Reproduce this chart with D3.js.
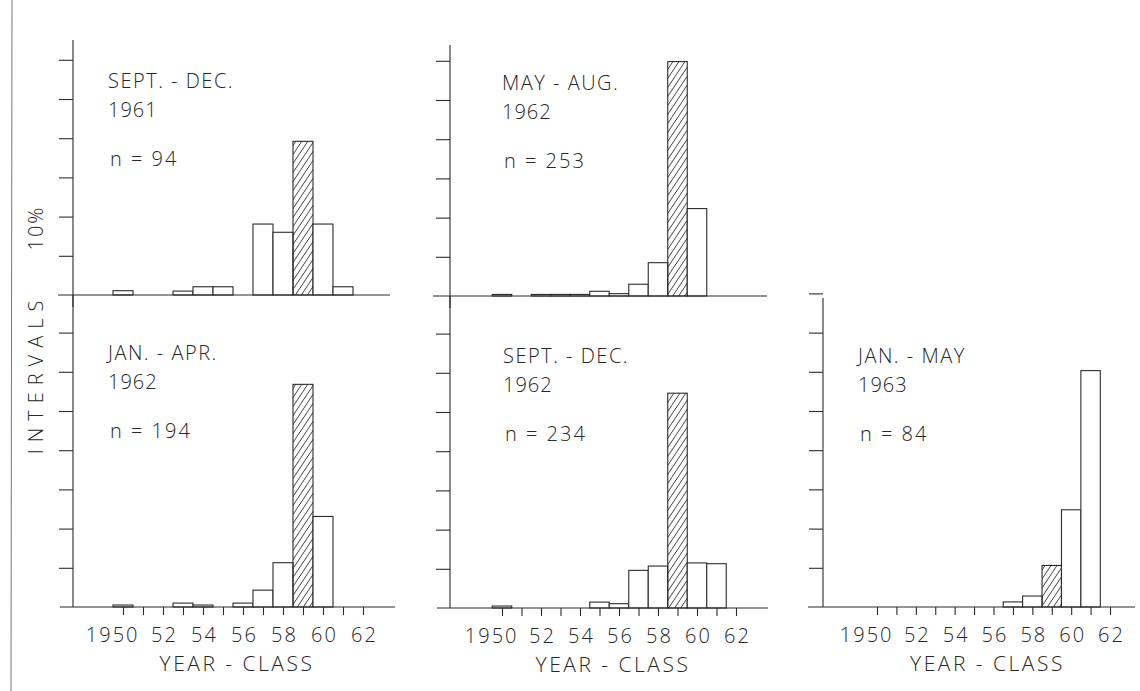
<!DOCTYPE html>
<html>
<head>
<meta charset="utf-8">
<script src="https://cdn.jsdelivr.net/npm/d3@7"></script>
<style>
body { margin: 0; background: #fff; }
text { font-family: "Open Sans", sans-serif; font-weight: 350; fill: #262626; }
</style>
</head>
<body>
<div id="chart"></div>
<script>
// year-classes on the x axis
var years = [1950, 1951, 1952, 1953, 1954, 1955, 1956, 1957, 1958, 1959, 1960, 1961, 1962];
var tickLabels = ["1950", "", "52", "", "54", "", "56", "", "58", "", "60", "", "62"];
var markedYear = 1959;

// percent of sample per year-class, one array per sampling period
var sepDec1961 = [1.1, 0, 0, 1.0, 2.1, 2.1, 0, 18.1, 16.0, 39.2, 18.1, 2.1, 0];
var mayAug1962 = [0.4, 0, 0.4, 0.4, 0.4, 1.2, 0.6, 3.0, 8.5, 59.8, 22.3, 0, 0];
var janApr1962 = [0.5, 0, 0, 1.0, 0.5, 0, 1.0, 4.3, 11.3, 56.8, 23.1, 0, 0];
var sepDec1962 = [0.5, 0, 0, 0, 0, 1.5, 1.1, 9.6, 10.7, 54.8, 11.5, 11.3, 0];
var janMay1963 = [0, 0, 0, 0, 0, 0, 0, 1.3, 2.8, 10.6, 24.8, 60.3, 0];

var periods = ["SEPT. - DEC.", "MAY - AUG.", "JAN. - APR.", "SEPT. - DEC.", "JAN. - MAY"];
var periodYears = ["1961", "1962", "1962", "1962", "1963"];
var sampleSizes = [94, 253, 194, 234, 84];

var width = 1140;
var height = 691;
var ink = "#2b2b2b";

var svg = d3.select("#chart")
    .append("svg")
        .attr("width", width)
        .attr("height", height);

var pat = svg.append("defs").append("pattern")
    .attr("id", "hatch")
    .attr("patternUnits", "userSpaceOnUse")
    .attr("width", 6)
    .attr("height", 9);
pat.append("path")
    .attr("d", "M0,9 L6,0 M-1,1.5 L1,-1.5 M5,10.5 L7,7.5")
    .attr("stroke", ink)
    .attr("stroke-width", 0.9);

// page edge of the scan
svg.append("line")
    .attr("x1", 12).attr("x2", 11)
    .attr("y1", 0).attr("y2", height)
    .attr("stroke", "#777").attr("stroke-width", 1);

// layout of the five small panels
var panels = [
  {values: sepDec1961, ax: 73,  base: 295, top: 40,  x0: 123, x1: 363,  left: 58,  right: 390,  yticks: [10,20,30,40,50,60], xaxis: false, tx: 108, ty: 88},
  {values: mayAug1962, ax: 450, base: 296, top: 45,  x0: 502, x1: 736,  left: 433, right: 767,  yticks: [10,20,30,40,50,60], xaxis: false, tx: 502, ty: 90},
  {values: janApr1962, ax: 73,  base: 607, top: 295, x0: 123, x1: 363,  left: 60,  right: 395,  yticks: [10,20,30,40,50,60,70], xaxis: true, tx: 108, ty: 360},
  {values: sepDec1962, ax: 450, base: 608, top: 296, x0: 502, x1: 736,  left: 437, right: 768,  yticks: [10,20,30,40,50,60,70], xaxis: true, tx: 503, ty: 363},
  {values: janMay1963, ax: 823, base: 607, top: 298, x0: 877, x1: 1110, left: 808, right: 1135, yticks: [10,20,30,40,50,60,70,80], xaxis: true, tx: 858, ty: 363}
];

panels.forEach(function(p, i) {
  var g = svg.append("g");

  var x = d3.scaleLinear().domain([years[0], years[years.length - 1]]).range([p.x0, p.x1]);
  var y = d3.scaleLinear().domain([0, 10]).range([p.base, p.base - 39.2]);

  var rows = years.map(function(yr, j) { return {year: yr, value: p.values[j]}; })
      .filter(function(d) { return d.value > 0; });

  g.selectAll("rect").data(rows).enter().append("rect")
      .attr("x", d => x(d.year - 0.5))
      .attr("width", d => x(d.year + 0.5) - x(d.year - 0.5))
      .attr("y", d => y(d.value))
      .attr("height", d => y(0) - y(d.value))
      .attr("fill", d => d.year === markedYear ? "url(#hatch)" : "#fff")
      .attr("stroke", ink)
      .attr("stroke-width", 1.1);

  // y ticks
  var yAxis = d3.axisLeft(y).tickValues(p.yticks).tickSize(14).tickSizeOuter(0).tickFormat("");
  var ya = g.append("g").attr("transform", `translate(${p.ax},0)`).call(yAxis);
  ya.select(".domain").remove();
  ya.selectAll("line").attr("stroke", ink).attr("stroke-width", 1.1);

  g.append("line")
      .attr("x1", p.ax).attr("x2", p.ax)
      .attr("y1", p.top).attr("y2", p.base + (p.xaxis ? 0 : 12))
      .attr("stroke", ink).attr("stroke-width", 1.1);

  if (p.xaxis) {
    var xAxis = d3.axisBottom(x).tickValues(years).tickSize(8).tickSizeOuter(0)
        .tickFormat((d, j) => tickLabels[j]);
    var xa = g.append("g").attr("transform", `translate(0,${p.base})`).call(xAxis);
    xa.select(".domain").remove();
    xa.selectAll("line").attr("stroke", ink).attr("stroke-width", 1.1);
    xa.selectAll("text")
        .attr("y", 35)
        .attr("dy", 0)
        .style("font-size", "20px")
        .style("letter-spacing", "2px")
        .style("font-family", "'Open Sans', sans-serif")
        .style("font-weight", 350)
        .attr("fill", ink)
        .attr("text-anchor", (d, j) => j === 0 ? "end" : "middle")
        .attr("dx", (d, j) => j === 0 ? 16 : 1);

    g.append("text")
        .attr("x", (x(1950) + x(1962)) / 2 - 6)
        .attr("y", p.base + 64)
        .attr("text-anchor", "middle")
        .style("font-size", "21px")
        .style("letter-spacing", "2.5px")
        .text("YEAR - CLASS");
  }

  g.append("line")
      .attr("x1", p.left).attr("x2", p.right)
      .attr("y1", p.base).attr("y2", p.base)
      .attr("stroke", ink).attr("stroke-width", 1.1);

  g.append("text").attr("x", p.tx).attr("y", p.ty)
      .style("font-size", "20px").style("letter-spacing", "1.5px")
      .text(periods[i]);
  g.append("text").attr("x", p.tx).attr("y", p.ty + 29)
      .style("font-size", "20px").style("letter-spacing", "1px")
      .text(periodYears[i]);
  g.append("text").attr("x", p.tx + 2).attr("y", p.ty + 78)
      .style("font-size", "20px").style("letter-spacing", "2px")
      .text("n = " + sampleSizes[i]);
});

// rotated y title
svg.append("text")
    .attr("transform", "translate(43,374) rotate(-90)")
    .attr("text-anchor", "middle")
    .style("font-size", "20px")
    .style("letter-spacing", "7px")
    .text("INTERVALS");
svg.append("text")
    .attr("transform", "translate(43,228) rotate(-90)")
    .attr("text-anchor", "middle")
    .style("font-size", "20px")
    .style("letter-spacing", "2px")
    .text("10%");
</script>
</body>
</html>
